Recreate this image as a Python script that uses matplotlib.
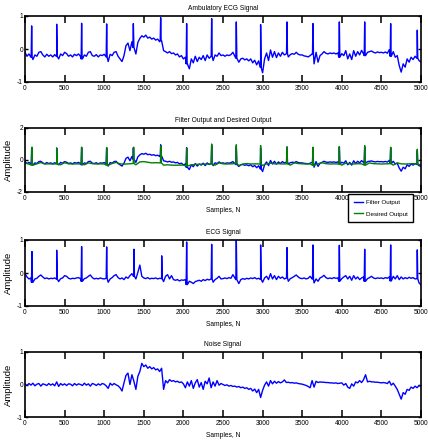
import numpy as np
import matplotlib
matplotlib.use("Agg")
import matplotlib.pyplot as plt

# ---------------- data ----------------
grid_step = 25  # samples between baseline readings
grid_x = np.arange(0, 5001, grid_step)

# Ambulatory ECG (ECG + noise) baseline readings, every 25 samples
amb_base = [
    -0.10, -0.22, -0.15, -0.25, -0.32, -0.18, -0.22, -0.10, -0.08, -0.18, -0.24, -0.16, -0.22, -0.18, -0.24, -0.17, -0.22, -0.30, -0.15, -0.20,
    -0.10, -0.14, -0.22, -0.18, -0.24, -0.16, -0.20, -0.15, -0.22, -0.30, -0.18, -0.22, -0.10, -0.08, -0.20, -0.22, -0.17, -0.24, -0.18, -0.20,
    -0.16, -0.24, -0.38, -0.16, -0.20, -0.10, -0.08, -0.22, -0.30, -0.38, -0.20, 0.10, 0.18, -0.05, 0.22, 0.05, -0.15, 0.20, 0.32, 0.40,
    0.36, 0.42, 0.33, 0.36, 0.30, 0.33, 0.27, 0.30, 0.22, 0.25, -0.05, -0.08, -0.12, -0.08, -0.14, -0.12, -0.18, -0.15, -0.24, -0.20,
    -0.30, -0.25, -0.45, -0.60, -0.30, -0.42, -0.22, -0.38, -0.25, -0.32, -0.20, -0.35, -0.18, -0.28, -0.22, -0.35, -0.18, -0.22, -0.12, -0.20,
    -0.18, -0.22, -0.18, -0.20, -0.17, -0.10, -0.22, -0.28, -0.40, -0.30, -0.28, -0.33, -0.30, -0.36, -0.30, -0.42, -0.34, -0.48, -0.36, -0.55,
    -0.72, -0.30, -0.12, -0.35, -0.03, -0.25, -0.08, -0.26, -0.12, -0.22, -0.10, -0.18, -0.14, -0.24, -0.17, -0.14, -0.16, -0.10, -0.16, -0.18,
    -0.18, -0.21, -0.22, -0.24, -0.20, -0.15, -0.45, -0.10, -0.40, -0.20, -0.15, -0.08, -0.13, -0.15, -0.12, -0.14, -0.12, -0.15, -0.12, -0.25,
    -0.14, -0.20, -0.05, -0.30, -0.15, -0.32, -0.05, -0.22, -0.08, -0.18, -0.04, -0.15, -0.20, -0.10, -0.08, -0.06, -0.10, -0.12, -0.09, -0.11,
    -0.10, -0.12, -0.09, -0.13, -0.02, -0.22, -0.08, -0.25, -0.20, -0.50, -0.70, -0.45, -0.55, -0.30, -0.40, -0.25, -0.32, -0.22, -0.28, -0.35,
    -0.40,
]
amb_peak_x = [84, 400, 715, 1031, 1368, 1713, 2041, 2357, 2668, 2975, 3308, 3636, 3969, 4289, 4617, 4953]
amb_peak_h = [0.70, 0.75, 0.78, 0.76, 0.77, 0.95, 0.77, 0.92, 0.82, 0.74, 0.82, 0.77, 0.82, 0.82, 0.77, 0.57]

# Desired output (green) baseline readings, every 50 samples
des_step = 50
des_x = np.arange(0, 5001, des_step)
des_base = [
    -0.18, -0.26, -0.32, -0.24, -0.16, -0.25, -0.24, -0.25, -0.24, -0.30,
    -0.17, -0.24, -0.25, -0.24, -0.25, -0.30, -0.18, -0.23, -0.25, -0.24,
    -0.25, -0.32, -0.22, -0.15, -0.24, -0.26, -0.24, -0.22, -0.30, -0.12,
    -0.10, -0.14, -0.18, -0.17, -0.18, -0.32, -0.30, -0.32, -0.33, -0.32,
    -0.32, -0.38, -0.30, -0.28, -0.27, -0.26, -0.25, -0.25, -0.32, -0.18,
    -0.24, -0.25, -0.24, -0.22, -0.35, -0.25, -0.22, -0.25, -0.24, -0.25,
    -0.34, -0.24, -0.20, -0.24, -0.23, -0.25, -0.24, -0.32, -0.18, -0.22,
    -0.24, -0.25, -0.24, -0.33, -0.24, -0.17, -0.23, -0.25, -0.24, -0.25,
    -0.32, -0.20, -0.24, -0.25, -0.23, -0.24, -0.32, -0.18, -0.23, -0.24,
    -0.25, -0.24, -0.23, -0.32, -0.18, -0.24, -0.25, -0.24, -0.23, -0.25,
    -0.32,
]
des_peak_x = [88, 400, 715, 1031, 1372, 1716, 2041, 2357, 2668, 2975, 3308, 3636, 3969, 4289, 4617, 4953]
des_peak_h = [0.80, 0.74, 0.80, 0.78, 0.80, 0.88, 0.74, 1.00, 0.95, 0.90, 0.80, 0.80, 0.84, 0.90, 0.80, 0.67]

# Clean ECG signal baseline readings, every 25 samples
ecg_base = [
    -0.02, -0.12, -0.18, -0.15, -0.28, -0.18, -0.16, -0.10, -0.06, -0.12, -0.17, -0.15, -0.18, -0.16, -0.17, -0.15, -0.18, -0.26, -0.17, -0.15,
    -0.08, -0.10, -0.16, -0.18, -0.16, -0.17, -0.15, -0.14, -0.17, -0.25, -0.17, -0.15, -0.10, -0.06, -0.14, -0.18, -0.16, -0.18, -0.15, -0.17,
    -0.18, -0.16, -0.28, -0.18, -0.14, -0.08, -0.05, -0.14, -0.18, -0.15, -0.20, -0.12, -0.16, -0.08, -0.02, -0.10, -0.18, 0.02, 0.24, -0.10,
    -0.15, -0.17, -0.14, -0.18, -0.16, -0.17, -0.15, -0.18, -0.16, -0.17, -0.26, -0.10, -0.05, -0.18, -0.08, -0.20, -0.22, -0.20, -0.24, -0.21,
    -0.22, -0.20, -0.35, -0.25, -0.28, -0.32, -0.26, -0.24, -0.22, -0.25, -0.20, -0.23, -0.19, -0.21, -0.18, -0.28, -0.20, -0.16, -0.10, -0.18,
    -0.17, -0.15, -0.17, -0.14, -0.16, -0.05, -0.15, -0.20, -0.32, -0.20, -0.17, -0.19, -0.16, -0.18, -0.15, -0.17, -0.14, -0.18, -0.16, -0.19,
    -0.28, -0.15, -0.10, -0.20, -0.02, -0.18, -0.08, -0.20, -0.10, -0.16, -0.12, -0.18, -0.15, -0.25, -0.17, -0.14, -0.10, -0.06, -0.12, -0.16,
    -0.17, -0.15, -0.18, -0.16, -0.10, -0.18, -0.30, -0.18, -0.25, -0.15, -0.12, -0.07, -0.14, -0.17, -0.15, -0.17, -0.14, -0.16, -0.15, -0.25,
    -0.17, -0.12, -0.08, -0.18, -0.10, -0.22, -0.08, -0.18, -0.12, -0.20, -0.15, -0.12, -0.25, -0.17, -0.14, -0.10, -0.15, -0.17, -0.15, -0.16,
    -0.15, -0.17, -0.14, -0.16, -0.12, -0.24, -0.10, -0.18, -0.08, -0.20, -0.12, -0.18, -0.14, -0.17, -0.13, -0.16, -0.14, -0.18, -0.17, -0.30,
    -0.36,
]
ecg_peak_x = [88, 400, 715, 1031, 1376, 1726, 2041, 2357, 2668, 2975, 3308, 3636, 3969, 4289, 4617, 4953]
ecg_peak_h = [0.65, 0.69, 0.80, 0.79, 0.72, 0.52, 0.94, 0.87, 1.00, 0.85, 0.77, 0.85, 0.84, 0.72, 0.85, 0.70]

# Noise signal readings, every 25 samples
noise_vals = [
    0.02, -0.03, 0.03, -0.02, 0.04, -0.04, 0.01, 0.03, -0.05, 0.02, 0.00, -0.03, 0.03, -0.02, 0.02, -0.04, 0.08, -0.06, 0.03, -0.02,
    0.02, -0.03, 0.02, 0.01, -0.04, 0.03, -0.02, 0.02, 0.00, -0.03, 0.04, -0.02, 0.02, -0.05, 0.03, 0.01, -0.03, 0.02, -0.02, 0.03,
    0.01, -0.04, -0.12, 0.04, -0.02, 0.03, -0.01, -0.04, -0.10, -0.20, 0.05, 0.28, 0.35, 0.00, 0.30, 0.10, -0.15, 0.25, 0.40, 0.65,
    0.55, 0.60, 0.50, 0.55, 0.48, 0.52, 0.45, 0.48, 0.40, 0.50, -0.15, 0.12, 0.05, 0.15, 0.10, 0.12, 0.08, 0.10, 0.06, 0.08,
    0.02, -0.10, 0.08, -0.05, 0.12, -0.12, 0.05, 0.15, -0.08, 0.06, -0.15, 0.10, 0.02, 0.20, -0.10, 0.08, -0.05, 0.12, -0.02, 0.03,
    0.00, -0.03, -0.01, -0.05, -0.03, -0.06, -0.05, -0.08, -0.06, -0.10, -0.08, -0.12, -0.10, -0.15, -0.12, -0.20, -0.14, -0.25, -0.15, -0.40,
    -0.18, -0.02, 0.08, -0.05, 0.12, 0.02, 0.10, 0.04, 0.09, 0.05, 0.08, 0.14, 0.06, 0.07, 0.05, 0.06, 0.04, 0.05, 0.03, 0.02,
    0.01, -0.01, -0.03, -0.06, -0.10, 0.12, -0.08, 0.10, 0.06, 0.08, 0.07, 0.07, 0.06, 0.06, 0.05, 0.05, 0.04, 0.05, 0.03, 0.04,
    0.05, -0.02, 0.03, -0.08, -0.12, 0.02, -0.05, 0.08, 0.05, 0.12, 0.06, 0.15, 0.30, 0.08, 0.10, 0.08, 0.08, 0.07, 0.07, 0.06,
    0.05, 0.06, 0.05, 0.03, 0.10, -0.02, 0.04, -0.05, -0.15, -0.30, -0.45, -0.25, -0.30, -0.15, -0.18, -0.08, -0.12, -0.05, -0.10, -0.03,
    -0.06,
]

x_ticks = [0, 500, 1000, 1500, 2000, 2500, 3000, 3500, 4000, 4500, 5000]
titles = ["Ambulatory ECG Signal", "Filter Output and Desired Output", "ECG Signal", "Noise Signal"]
legend_labels = ["Filter Output", "Desired Output"]
x_label = "Samples, N"
y_label = "Amplitude"


def with_peaks(gx, gy, px, ph, half_width=6):
    gx = np.asarray(gx, float)
    gy = np.asarray(gy, float)
    fx, fy = [], []
    for r, h in zip(px, ph):
        foot = gy[np.abs(gx - r).argmin()]
        fx += [r - half_width, r, r + half_width]
        fy += [foot, h, foot]
    x = np.concatenate([gx, fx])
    y = np.concatenate([gy, fy])
    order = np.argsort(x, kind="stable")
    return x[order], y[order]


amb_x, amb_y = with_peaks(grid_x, amb_base, amb_peak_x, amb_peak_h)
des_xx, des_yy = with_peaks(des_x, des_base, des_peak_x, des_peak_h)
ecg_x, ecg_y = with_peaks(grid_x, ecg_base, ecg_peak_x, ecg_peak_h)

# ---------------- figure ----------------
plt.rcParams["font.family"] = ["Liberation Sans", "DejaVu Sans"]

W, H = 428, 446
fig = plt.figure(figsize=(W / 100, H / 100), dpi=100)


def ax_at(left, top, right, bottom):
    return fig.add_axes([left / W, 1 - bottom / H, (right - left) / W, (bottom - top) / H])


BLUE = "#0000ff"
GREEN = "#008000"
LW = 1.0
FS = 4.8

axes = [
    ax_at(25, 16, 421, 82),
    ax_at(25, 128, 421, 192),
    ax_at(25, 240, 421, 306),
    ax_at(25, 352, 421, 417),
]

axes[0].plot(amb_x, amb_y, color=BLUE, lw=LW)
l1, = axes[1].plot(amb_x, amb_y, color=BLUE, lw=LW)
l2, = axes[1].plot(des_xx, des_yy, color=GREEN, lw=LW)
axes[2].plot(ecg_x, ecg_y, color=BLUE, lw=LW)
axes[3].plot(grid_x, noise_vals, color=BLUE, lw=LW)

ylims = [(-1, 1), (-2, 2), (-1, 1), (-1, 1)]
yticks = [[-1, 0, 1], [-2, 0, 2], [-1, 0, 1], [-1, 0, 1]]

for i, ax in enumerate(axes):
    ax.set_xlim(0, 5000)
    ax.set_ylim(*ylims[i])
    ax.set_xticks(x_ticks)
    ax.set_yticks(yticks[i])
    ax.set_xticklabels([str(t) for t in x_ticks])
    ax.set_yticklabels([str(t) for t in yticks[i]])
    ax.tick_params(axis="x", direction="in", length=5, width=1.1, top=True,
                   labelsize=FS, pad=2.5)
    ax.tick_params(axis="y", direction="in", length=2.5, width=1.0, right=True,
                   labelsize=FS, pad=1.5)
    for s in ax.spines.values():
        s.set_linewidth(1.2)
    ax.set_title(titles[i], fontsize=FS, pad=4)
    if i > 0:
        ax.set_ylabel(y_label, fontsize=6.8, labelpad=3)
        ax.set_xlabel(x_label, fontsize=FS, labelpad=3)

leg = fig.legend([l1, l2], legend_labels, loc="upper right",
                 bbox_to_anchor=(413 / W, 1 - 194 / H), fontsize=FS - 0.3,
                 frameon=True, fancybox=False, handlelength=1.5,
                 borderpad=0.9, labelspacing=1.0, handletextpad=0.4,
                 borderaxespad=0)
leg.get_frame().set_edgecolor("black")
leg.get_frame().set_linewidth(1.0)
leg.get_frame().set_alpha(1)

fig.savefig("out.png", dpi=100)
